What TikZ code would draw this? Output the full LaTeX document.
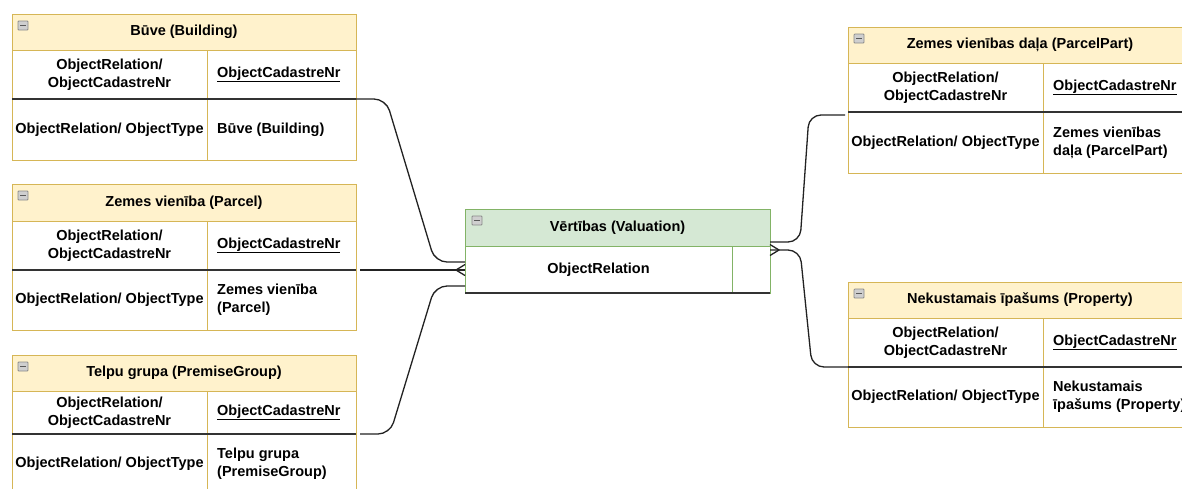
\documentclass[tikz,border=0pt]{standalone}
\usepackage{fontspec}
\setmainfont{Liberation Sans}
\usetikzlibrary{calc}
\definecolor{yfill}{HTML}{FFF2CC}
\definecolor{ystroke}{HTML}{D6B656}
\definecolor{gfill}{HTML}{D5E8D4}
\definecolor{gstroke}{HTML}{82B366}
\definecolor{darkline}{HTML}{333333}
\definecolor{connc}{HTML}{222222}
\definecolor{iconfill}{HTML}{CFCFCF}
\definecolor{iconbord}{HTML}{8A8A8A}
\tikzset{
  ybord/.style={draw=ystroke, line width=1pt},
  gbord/.style={draw=gstroke, line width=1pt},
  rowline/.style={draw=darkline, line width=1.6pt},
  conn/.style={draw=connc, line width=1.3pt, line join=round},
  txt/.style={inner sep=0pt, font=\fontsize{14.5}{18}\selectfont\bfseries, text=black},
  iconbox/.style={draw=iconbord, fill=iconfill, line width=0.8pt, rounded corners=0.8pt},
  iconbar/.style={draw=black!65, line width=1.4pt},
}
\newcommand\minusicon[2]{%
  \draw[iconbox] ({#1+6},{#2+7}) rectangle ({#1+16},{#2+16});
  \draw[iconbar] ({#1+8},{#2+11.5}) -- ({#1+14},{#2+11.5});
}
% #1 name, #2 left x, #3 top, #4 header bottom, #5 row line, #6 bottom, #7 title, #8 row2 value
\newcommand\ertable[8]{%
  \fill[white] (#2,#4) rectangle ({#2+344},#6);
  \draw[ybord] (#2,#4) rectangle ({#2+344},#6);
  \draw[ybord] ({#2+195},#4) -- ({#2+195},#6);
  \draw[ybord, fill=yfill] (#2,#3) rectangle ({#2+344},#4);
  \draw[rowline] (#2,#5) -- ({#2+344},#5);
  \coordinate (#1-w) at (#2,#5);
  \coordinate (#1-e) at ({#2+344},#5);
  \node[txt] (#1-title) at ({#2+172},{(#3+#4)/2}) {#7};
  \node[txt, align=center] (#1-k1) at ({#2+97.5},{(#4+#5)/2}) {ObjectRelation/\\ObjectCadastreNr};
  \node[txt, anchor=west] (#1-v1) at ({#2+205},{(#4+#5)/2}) {\underline{ObjectCadastreNr}};
  \node[txt] (#1-k2) at ({#2+97.5},{(#5+#6)/2}) {ObjectRelation/ ObjectType};
  \node[txt, anchor=west, align=left] (#1-v2) at ({#2+205},{(#5+#6)/2}) {#8};
  \minusicon{#2}{#3}
}
\begin{document}
\begin{tikzpicture}[x=1pt, y=-1pt]
\useasboundingbox (0,0) rectangle (1182,488);
\clip (0,0) rectangle (1182,488);
\fill[white] (0,0) rectangle (1182,488);

% Valuation entity
\fill[white] (465,246) rectangle (770,293);
\draw[gbord] (465,246) rectangle (770,293);
\draw[gbord] (732,246) -- (732,293);
\draw[gbord, fill=gfill] (465,209) rectangle (770,246);
\draw[rowline] (465,293) -- (770,293);
\node[txt] (val-title) at (617.5,227.5) {Vērtības (Valuation)};
\node[txt] (val-rel) at (598.5,269.5) {ObjectRelation};
\minusicon{466}{209}
\coordinate (vl1) at (465,262);
\coordinate (vl2) at (465,270);
\coordinate (vl3) at (465,286);
\coordinate (vr1) at (770,242);
\coordinate (vr2) at (770,250);

% tables
\ertable{bld}{12}{14}{50}{99}{160}{Būve (Building)}{Būve (Building)}
\ertable{prc}{12}{184}{221}{270}{330}{Zemes vienība (Parcel)}{Zemes vienība\\(Parcel)}
\ertable{pg}{12}{355}{391}{434}{494}{Telpu grupa (PremiseGroup)}{Telpu grupa\\(PremiseGroup)}
\ertable{pp}{848}{27}{63}{112}{173}{Zemes vienības daļa (ParcelPart)}{Zemes vienības\\daļa (ParcelPart)}
\ertable{np}{848}{282}{318}{367}{427}{Nekustamais īpašums (Property)}{Nekustamais\\īpašums (Property)}

% connectors
\draw[conn, rounded corners=12pt] (bld-e) -- ++(30,0) -- ($(vl1)+(-30,0)$) -- (vl1);
\draw[conn] ($(prc-e)+(4,0)$) -- (vl2);
\draw[conn] ($(vl2)+(0,-5.5)$) -- ($(vl2)+(-9,0)$) -- ($(vl2)+(0,5.5)$);
\draw[conn, rounded corners=12pt] ($(pg-e)+(4,0)$) -- ++(30,0) -- ($(vl3)+(-30,0)$) -- (vl3);
\draw[conn, rounded corners=12pt] (vr1) -- ++(30,0) -- ($(pp-w)+(-39,3)$) -- ($(pp-w)+(-3,3)$);
\draw[conn, rounded corners=12pt] (vr2) -- ++(30,0) -- ($(np-w)+(-36,0)$) -- (np-w);
\draw[conn] ($(vr2)+(0,-5.5)$) -- ($(vr2)+(9,0)$) -- ($(vr2)+(0,5.5)$);
\end{tikzpicture}
\end{document}
